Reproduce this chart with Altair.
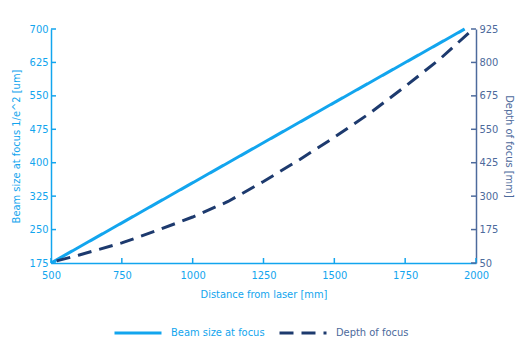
import altair as alt
import pandas as pd

# Data
beam_x = [500, 1000, 1500, 1960]
beam_y = [175, 355, 535, 700]
dof_x = [520, 600, 750, 875, 1000, 1125, 1250, 1375, 1500, 1625, 1750, 1875, 1990]
dof_y = [58, 80, 125, 172, 222, 280, 355, 435, 520, 610, 710, 815, 925]
series = ["Beam size at focus", "Depth of focus"]
x_ticks = [500, 750, 1000, 1250, 1500, 1750, 2000]
left_ticks = [175, 250, 325, 400, 475, 550, 625, 700]
right_ticks = [50, 175, 300, 425, 550, 675, 800, 925]

LIGHT = "#12a5ee"
DARK = "#1d3a6e"
GREY = "#4d6a9c"
FONT = "DejaVu Sans Condensed, Liberation Sans Narrow, Roboto"
FS = 11

beam = pd.DataFrame({"x": beam_x, "y": beam_y, "s": series[0]})
dof = pd.DataFrame({"x": dof_x, "y": dof_y, "s": series[1]})
xt = pd.DataFrame({"x": x_ticks})
lt = pd.DataFrame({"y": left_ticks})
rt = pd.DataFrame({"y": right_ticks})

W, H = 425, 234
TK = 5

xscale = alt.Scale(domain=[500, 2000], nice=False, zero=False)
lscale = alt.Scale(domain=[175, 700], nice=False, zero=False)
rscale = alt.Scale(domain=[50, 925], nice=False, zero=False)

color = alt.Color("s:N", scale=alt.Scale(domain=series, range=[LIGHT, DARK]),
                  legend=alt.Legend(title=None, orient="none", legendX=62, legendY=279,
                                    direction="horizontal", symbolType="stroke",
                                    symbolSize=47 * 47, symbolStrokeWidth=3,
                                    labelFont=FONT, labelFontSize=FS,
                                    labelColor={"expr": f"datum.label == 'Depth of focus' ? '{GREY}' : '{LIGHT}'"},
                                    columnPadding=8, labelOffset=8))
dash = alt.StrokeDash("s:N", scale=alt.Scale(domain=series, range=[[1, 0], [14, 8]]), legend=None)

common = dict(grid=False, labelFont=FONT, labelFontSize=FS, titleFont=FONT,
              titleFontSize=FS, titleFontWeight="normal", domainWidth=1.5,
              ticks=False, format="d", labelFlush=False)

xaxis = alt.Axis(values=x_ticks, title="Distance from laser [mm]", titleColor=LIGHT,
                 labelColor=LIGHT, domainColor=LIGHT, titlePadding=8, labelPadding=6,
                 **common)

left = alt.Chart(beam).mark_line(strokeWidth=3).encode(
    x=alt.X("x:Q", scale=xscale, axis=xaxis),
    y=alt.Y("y:Q", scale=lscale,
            axis=alt.Axis(values=left_ticks, title="Beam size at focus 1/e^2 [um]",
                          orient="left", titleColor=LIGHT, labelColor=LIGHT,
                          domainColor=LIGHT, titlePadding=8, labelPadding=3, **common)),
    color=color, strokeDash=dash,
)

right = alt.Chart(dof).mark_line(strokeWidth=3).encode(
    x=alt.X("x:Q", scale=xscale, axis=xaxis),
    y=alt.Y("y:Q", scale=rscale,
            axis=alt.Axis(values=right_ticks, title="Depth of focus [mm]", orient="right",
                          titleColor=GREY, labelColor=GREY, domainColor=GREY,
                          titlePadding=6, labelPadding=3, **common)),
    color=color, strokeDash=dash,
)

xtick_layer = alt.Chart(xt).mark_rule(color=LIGHT, strokeWidth=1.5).encode(
    x=alt.X("x:Q", scale=xscale, axis=xaxis),
    y=alt.value(H), y2=alt.value(H - TK),
)
ltick_layer = alt.Chart(lt).mark_rule(color=LIGHT, strokeWidth=1.5).encode(
    y=alt.Y("y:Q", scale=lscale, axis=None),
    x=alt.value(0), x2=alt.value(TK),
)
rtick_layer = alt.Chart(rt).mark_rule(color=GREY, strokeWidth=1.5).encode(
    y=alt.Y("y:Q", scale=rscale, axis=None),
    x=alt.value(W - TK), x2=alt.value(W),
)

chart = alt.layer(left, right, xtick_layer, ltick_layer, rtick_layer).resolve_scale(
    y="independent"
).properties(
    width=W, height=H,
    autosize=alt.AutoSizeParams(type="none"),
    padding={"left": 51, "top": 29, "right": 43, "bottom": 100},
    background="white",
).configure_view(stroke=None)

chart.save("out.html", embed_options={"renderer": "svg", "actions": False})
